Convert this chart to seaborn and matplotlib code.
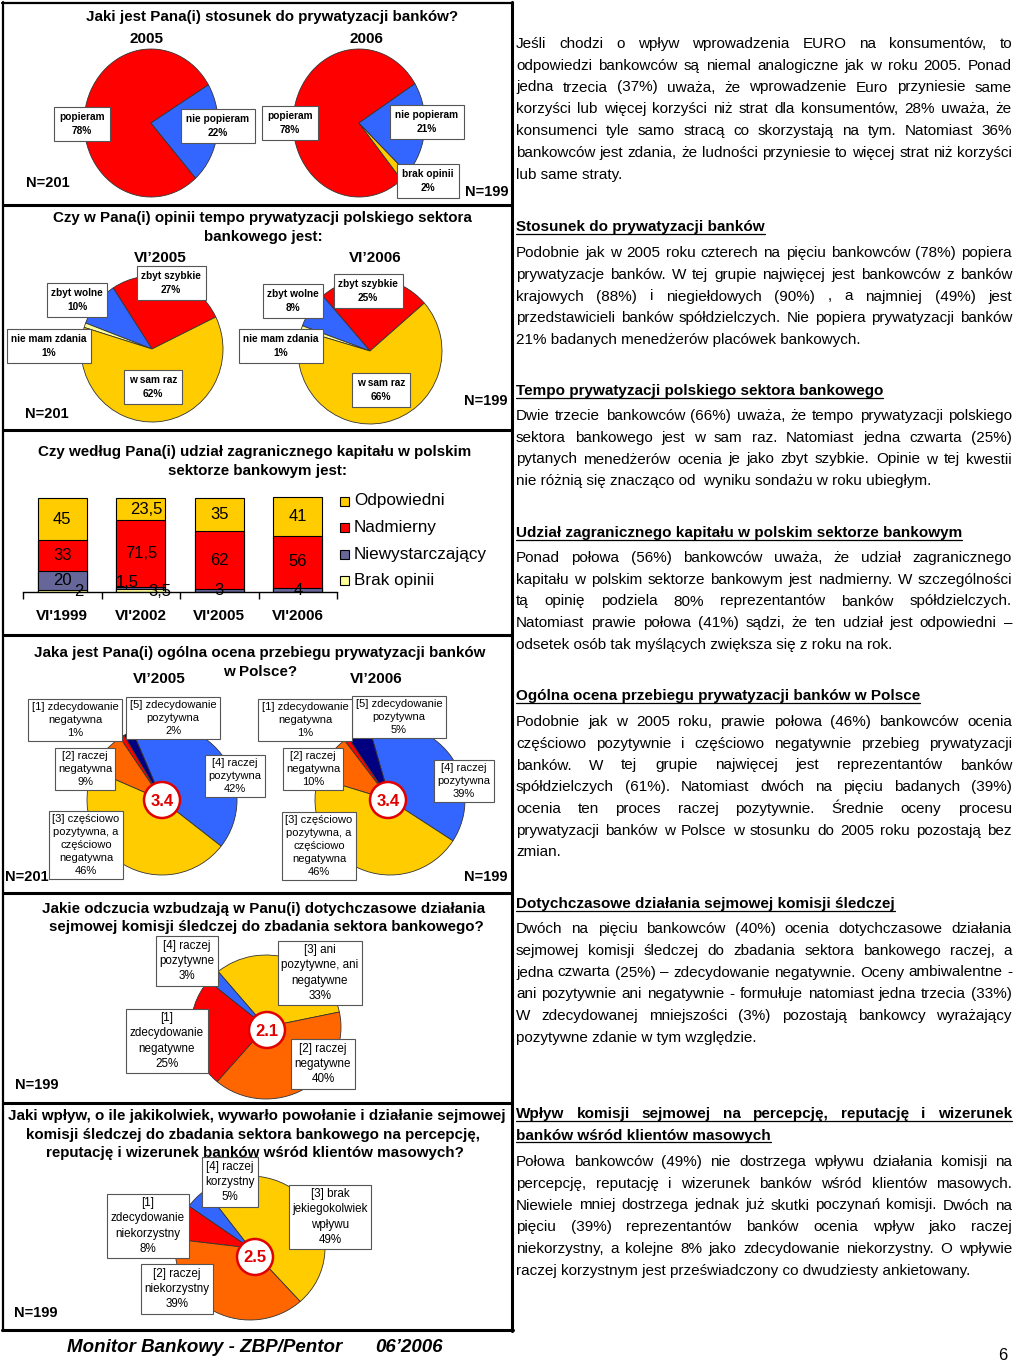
import matplotlib
matplotlib.use("Agg")
import matplotlib.pyplot as plt
import seaborn as sns
import pandas as pd
from matplotlib.patches import Circle, Rectangle

sns.set_theme(style="white")
plt.rcParams["font.family"] = ["Liberation Sans", "DejaVu Sans"]
plt.rcParams["text.color"] = "black"
plt.rcParams["xtick.color"] = "black"
plt.rcParams["axes.labelcolor"] = "black"

W, H = 1024, 1365

RED = "#FF0000"
BLUE = "#3366FF"
YELLOW = "#FFCC00"
PALE = "#FFFF99"
ORANGE = "#FF6600"
NAVY = "#000080"
SLATE = "#666699"

# --- dane: stosunek do prywatyzacji ---
support_2005_labels = ["popieram", "nie popieram"]
support_2005 = [78, 22]
support_2006_labels = ["popieram", "brak opinii", "nie popieram"]
support_2006 = [78, 2, 21]

# --- tempo prywatyzacji ---
pace_labels = ["zbyt szybkie", "zbyt wolne", "nie mam zdania", "w sam raz"]
pace_2005 = [27, 10, 1, 62]
pace_2006 = [25, 8, 1, 66]

# --- udzial kapitalu zagranicznego ---
periods = ["VI'1999", "VI'2002", "VI'2005", "VI'2006"]
share_brak = [2, 3.5, 0, 0]
share_niewyst = [20, 1.5, 3, 4]
share_nadm = [33, 71.5, 62, 56]
share_odp = [45, 23.5, 35, 41]

# --- ogolna ocena ---
rating_labels = ["[4] raczej\npozytywna", "[5] zdecydowanie\npozytywna",
                 "[1] zdecydowanie\nnegatywna", "[2] raczej\nnegatywna",
                 "[3] częściowo\npozytywna, a\nczęściowo\nnegatywna"]
rating_2005 = [42, 2, 1, 9, 46]
rating_2006 = [39, 5, 1, 10, 46]
rating_mean_2005 = 3.4
rating_mean_2006 = 3.4

# --- komisja sledcza ---
commission_labels = ["[3] ani\npozytywne, ani\nnegatywne", "[4] raczej\npozytywne",
                     "[1]\nzdecydowanie\nnegatywne", "[2] raczej\nnegatywne"]
commission = [33, 3, 25, 40]
commission_mean = 2.1

impact_labels = ["[3] brak\njekiegokolwiek\nwpływu", "[4] raczej\nkorzystny",
                 "[1]\nzdecydowanie\nniekorzystny", "[2] raczej\nniekorzystny"]
impact = [49, 5, 8, 39]
impact_mean = 2.5

# --- tekst prawej kolumny ---
paragraphs = [
    (43, "p", ["Jeśli chodzi o wpływ wprowadzenia EURO na konsumentów, to",
               "odpowiedzi bankowców są niemal analogiczne jak w roku 2005. Ponad",
               "jedna trzecia (37%) uważa, że wprowadzenie Euro przyniesie same",
               "korzyści lub  więcej korzyści niż strat dla konsumentów, 28% uważa, że",
               "konsumenci tyle samo stracą co skorzystają na tym.  Natomiast 36%",
               "bankowców jest zdania, że ludności przyniesie to więcej strat niż korzyści",
               "lub same straty."]),
    (226, "h", ["Stosunek do prywatyzacji banków"]),
    (252, "p", ["Podobnie jak w 2005 roku czterech na pięciu bankowców  (78%) popiera",
                "prywatyzacje banków. W tej grupie najwięcej jest bankowców z banków",
                "krajowych (88%) i niegiełdowych (90%) , a najmniej (49%) jest",
                "przedstawicieli banków spółdzielczych. Nie popiera prywatyzacji banków",
                "21% badanych menedżerów placówek bankowych."]),
    (390, "h", ["Tempo prywatyzacji polskiego sektora bankowego"]),
    (415, "p", ["Dwie trzecie bankowców (66%) uważa, że tempo prywatyzacji polskiego",
                "sektora bankowego jest w sam raz. Natomiast jedna czwarta (25%)",
                "pytanych menedżerów ocenia je jako zbyt szybkie. Opinie w tej kwestii",
                "nie różnią się znacząco od  wyniku sondażu w roku ubiegłym."]),
    (532, "h", ["Udział zagranicznego kapitału w polskim sektorze bankowym"]),
    (557, "p", ["Ponad połowa (56%)  bankowców uważa, że udział zagranicznego",
                "kapitału w polskim sektorze bankowym jest nadmierny. W szczególności",
                "tą opinię podziela 80% reprezentantów banków spółdzielczych.",
                "Natomiast prawie połowa (41%) sądzi, że ten udział jest odpowiedni –",
                "odsetek osób tak myślących zwiększa się z roku na rok."]),
    (695, "h", ["Ogólna ocena przebiegu prywatyzacji banków w Polsce"]),
    (721, "p", ["Podobnie jak w 2005 roku, prawie połowa (46%) bankowców ocenia",
                "częściowo pozytywnie i częściowo negatywnie przebieg prywatyzacji",
                "banków. W tej grupie najwięcej jest reprezentantów banków",
                "spółdzielczych (61%). Natomiast dwóch na pięciu badanych  (39%)",
                "ocenia ten proces raczej pozytywnie. Średnie oceny procesu",
                "prywatyzacji banków w Polsce w stosunku do 2005 roku pozostają bez",
                "zmian."]),
    (903, "h", ["Dotychczasowe działania sejmowej komisji śledczej"]),
    (928, "p", ["Dwóch na pięciu bankowców (40%) ocenia dotychczasowe działania",
                "sejmowej komisji śledczej do zbadania sektora bankowego  raczej, a",
                "jedna czwarta (25%) – zdecydowanie negatywnie. Oceny ambiwalentne -",
                "ani pozytywnie ani negatywnie - formułuje natomiast jedna trzecia (33%)",
                "W zdecydowanej mniejszości (3%) pozostają bankowcy wyrażający",
                "pozytywne zdanie w tym względzie."]),
    (1113, "h", ["Wpływ komisji sejmowej  na percepcję, reputację  i wizerunek",
                 "banków wśród klientów masowych"]),
    (1161, "p", ["Połowa bankowców (49%)  nie dostrzega wpływu działania komisji na",
                 "percepcję, reputację i wizerunek banków wśród klientów masowych.",
                 "Niewiele mniej dostrzega jednak już skutki poczynań komisji. Dwóch na",
                 "pięciu (39%) reprezentantów banków ocenia wpływ jako raczej",
                 "niekorzystny, a kolejne 8%  jako zdecydowanie niekorzystny. O wpływie",
                 "raczej korzystnym jest przeświadczony co dwudziesty ankietowany."]),
]

fig = plt.figure(figsize=(W / 100, H / 100), dpi=100)
fig.patch.set_facecolor("white")


def px_axes(x, y, w, h):
    return fig.add_axes([x / W, 1 - (y + h) / H, w / W, h / H])


page = px_axes(0, 0, W, H)
page.set_xlim(0, W)
page.set_ylim(H, 0)
page.axis("off")
page.set_zorder(10)
page.patch.set_visible(False)


def draw_pie(cx, cy, rx, ry, values, colors, start):
    ax = px_axes(cx - rx, cy - ry, 2 * rx, 2 * ry)
    ax.pie(values, colors=colors, startangle=start, counterclock=True,
           wedgeprops=dict(edgecolor="#333333", linewidth=0.6, clip_on=False))
    ax.set_aspect("auto")
    ax.set_xlim(-1, 1)
    ax.set_ylim(-1, 1)
    ax.axis("off")
    ax.patch.set_visible(False)
    return ax


def boxes(labels, values, positions, size=8, weight="normal", ls=1.35, pad=0.3):
    for lab, v, (x, y) in zip(labels, values, positions):
        page.text(x, y, f"{lab}\n{v}%", ha="center", va="center", fontsize=size,
                  weight=weight, linespacing=ls, zorder=5,
                  bbox=dict(boxstyle=f"square,pad={pad}", fc="white", ec="#555555", lw=0.8))


def mean_badge(x, y, m):
    page.add_patch(Circle((x, y), 18, fc="white", ec="#E00000", lw=1.8, zorder=6))
    page.text(x, y + 1, f"{m:.1f}", ha="center", va="center", fontsize=12,
              weight="bold", color="#E00000", zorder=7)


def bold(x, y, s, size=10.9, ha="center"):
    page.text(x, y, s, ha=ha, va="center", fontsize=size, weight="bold")


# ---------- panel 1 ----------
bold(272, 17, "Jaki jest Pana(i) stosunek do prywatyzacji banków?")
bold(146, 39, "2005", 11)
bold(366, 39, "2006", 11)
draw_pie(151, 123, 67, 74, support_2005, [RED, BLUE], 31)
draw_pie(359, 123, 66, 74, support_2006, [RED, YELLOW, BLUE], 32)
boxes(support_2005_labels, support_2005, [(82, 124), (218, 126)], 7.3, "bold", 1.5, 0.5)
boxes(support_2006_labels, support_2006, [(290, 123), (428, 181), (427, 122)], 7.3, "bold", 1.5, 0.5)
bold(48, 183, "N=201", 10.5)
bold(487, 192, "N=199", 10.5)

# ---------- panel 2 ----------
bold(262, 218, "Czy w Pana(i) opinii tempo prywatyzacji polskiego sektora")
bold(263, 237, "bankowego jest:")
bold(160, 258, "VI’2005", 11)
bold(375, 258, "VI’2006", 11)
draw_pie(152, 349, 71, 73, pace_2005, [RED, BLUE, PALE, YELLOW], 26)
draw_pie(370, 351, 72, 73, pace_2006, [RED, BLUE, PALE, YELLOW], 41)
boxes(pace_labels, pace_2005, [(171, 283), (77, 300), (49, 346), (153, 387)], 7.3, "bold", 1.5, 0.45)
boxes(pace_labels, pace_2006, [(368, 291), (293, 301), (281, 346), (381, 390)], 7.3, "bold", 1.5, 0.45)
bold(47, 414, "N=201", 10.5)
bold(486, 401, "N=199", 10.5)

# ---------- panel 3: stacked bars ----------
bold(255, 452, "Czy według Pana(i) udział zagranicznego kapitału w polskim")
bold(257, 471, "sektorze bankowym jest:")

share = pd.DataFrame({"okres": periods, "Brak opinii": share_brak,
                      "Niewystarczający": share_niewyst, "Nadmierny": share_nadm,
                      "Odpowiedni": share_odp})
stack_order = ["Brak opinii", "Niewystarczający", "Nadmierny", "Odpowiedni"]
bar_colors = {"Brak opinii": PALE, "Niewystarczający": SLATE,
              "Nadmierny": RED, "Odpowiedni": YELLOW}
cum = share[stack_order].cumsum(axis=1)

bax = px_axes(23, 592 - 98.7, 314, 98.7)
for name in reversed(stack_order):
    sns.barplot(x=share["okres"], y=cum[name], color=bar_colors[name], saturation=1,
                width=0.62, edgecolor="black", linewidth=0.8, errorbar=None, ax=bax)
bax.set_xlim(-0.5, 3.5)
bax.set_ylim(0, 105)
bax.set_xlabel("")
bax.set_ylabel("")
bax.set_yticks([])
bax.set_xticks(range(len(periods)))
bax.set_xticklabels(periods, fontsize=11, weight="bold")
bax.set_xticks([i - 0.5 for i in range(len(periods) + 1)], minor=True)
bax.tick_params(axis="x", which="major", length=0, pad=12)
bax.tick_params(axis="x", which="minor", length=5, width=1, color="black", direction="out", bottom=True)
sns.despine(ax=bax, left=True)
bax.spines["bottom"].set_color("black")
bax.spines["bottom"].set_linewidth(1)
bax.patch.set_visible(False)

label_shift = {("Brak opinii", 0): (12, 0), ("Niewystarczający", 1): (-10, 4),
               ("Brak opinii", 1): (14, -1), ("Odpowiedni", 1): (4, 0)}
for i in range(len(periods)):
    bottom = 0
    for name in stack_order:
        v = share[name][i]
        if v > 0:
            dx, dy = label_shift.get((name, i), (0, 0))
            bax.annotate(f"{v:g}".replace(".", ","), (i, bottom + v / 2),
                         xytext=(dx, dy), textcoords="offset points", color="black",
                         ha="center", va="center", fontsize=12, annotation_clip=False)
        bottom += v

for k, name in enumerate(reversed(stack_order)):
    y = 501 + k * 26.5
    page.add_patch(Rectangle((340, y - 4.5), 9, 9, fc=bar_colors[name], ec="black", lw=0.8))
    page.text(354, y, name, ha="left", va="center", fontsize=12.3)

# ---------- panel 4 ----------
bold(260, 653, "Jaka jest Pana(i) ogólna ocena przebiegu prywatyzacji banków")
bold(260, 672, "w Polsce?")
bold(159, 679, "VI’2005", 11)
bold(376, 679, "VI’2006", 11)
rating_colors = [BLUE, NAVY, RED, ORANGE, YELLOW]
draw_pie(162, 800, 75, 75, rating_2005, rating_colors, -38)
draw_pie(390, 800, 75, 75, rating_2006, rating_colors, -33)
boxes(rating_labels, rating_2005, [(235, 776), (173, 718), (75, 720), (85, 769), (86, 845)], 8)
boxes(rating_labels, rating_2006, [(464, 781), (399, 717), (305, 720), (313, 769), (319, 846)], 8)
mean_badge(162, 800, rating_mean_2005)
mean_badge(388, 800, rating_mean_2006)
bold(27, 877, "N=201", 10.5)
bold(486, 877, "N=199", 10.5)

# ---------- panel 5 ----------
bold(264, 909, "Jakie odczucia wzbudzają w Panu(i) dotychczasowe działania")
bold(266, 927, "sejmowej komisji śledczej do zbadania sektora bankowego?")
draw_pie(266, 1027, 75, 72, commission, [YELLOW, BLUE, RED, ORANGE], 12)
boxes(commission_labels, commission, [(320, 973), (187, 961), (167, 1041), (323, 1064)], 8.4)
mean_badge(267, 1030, commission_mean)
bold(37, 1085, "N=199", 10.5)

# ---------- panel 6 ----------
bold(257, 1116, "Jaki wpływ, o ile jakikolwiek, wywarło powołanie i działanie sejmowej")
bold(253, 1135, "komisji śledczej do zbadania sektora bankowego na percepcję,")
bold(255, 1153, "reputację i wizerunek banków wśród klientów masowych?")
draw_pie(250, 1248, 75, 72, impact, [YELLOW, BLUE, RED, ORANGE], -48)
boxes(impact_labels, impact, [(330, 1217), (230, 1182), (148, 1226), (177, 1289)], 8.4)
mean_badge(255, 1257, impact_mean)
bold(36, 1313, "N=199", 10.5)

# ---------- ramki ----------
for y in [205, 430, 635, 893, 1103]:
    page.plot([2, 513], [y, y], color="black", lw=2.2, solid_capstyle="butt")
page.plot([2, 513], [2.5, 2.5], color="black", lw=1.6)
page.plot([2, 513], [1330, 1330], color="black", lw=2.2)
page.plot([2.5, 2.5], [2, 1331], color="black", lw=1.6)
page.plot([512, 512], [2, 1331], color="black", lw=2.2)

# ---------- stopka ----------
page.text(67, 1347, "Monitor Bankowy - ZBP/Pentor", ha="left", va="center",
          fontsize=13.5, weight="bold", style="italic")
page.text(375, 1347, "06’2006", ha="left", va="center", fontsize=13.5,
          weight="bold", style="italic")
page.text(1003, 1355, "6", ha="center", va="center", fontsize=12)

# ---------- prawa kolumna (wyjustowana) ----------
renderer = fig.canvas.get_renderer()
X0, X1 = 516, 1012
LS = 21.75
FS = 11


def text_width(s, weight):
    t = page.text(0, 0, s, fontsize=FS, weight=weight)
    w = t.get_window_extent(renderer).width
    t.remove()
    return w


def put_line(s, yb, weight, justify):
    if justify:
        words = s.split()
        widths = [text_width(w, weight) for w in words]
        gap = (X1 - X0 - sum(widths)) / (len(words) - 1)
        x = X0
        for w, wd in zip(words, widths):
            page.text(x, yb, w, ha="left", va="baseline", fontsize=FS, weight=weight)
            x += wd + gap
        return X1 - X0
    page.text(X0, yb, s, ha="left", va="baseline", fontsize=FS, weight=weight)
    return text_width(s, weight)


for y0, kind, lines in paragraphs:
    for j, line in enumerate(lines):
        yb = y0 + j * LS + 5
        last = j == len(lines) - 1
        if kind == "p":
            put_line(line, yb, "normal", not last)
        else:
            width = put_line(line, yb, "bold", not last)
            page.plot([X0, X0 + width], [yb + 2.5, yb + 2.5], color="black", lw=0.9)

fig.savefig("out.png", dpi=100, facecolor="white")
